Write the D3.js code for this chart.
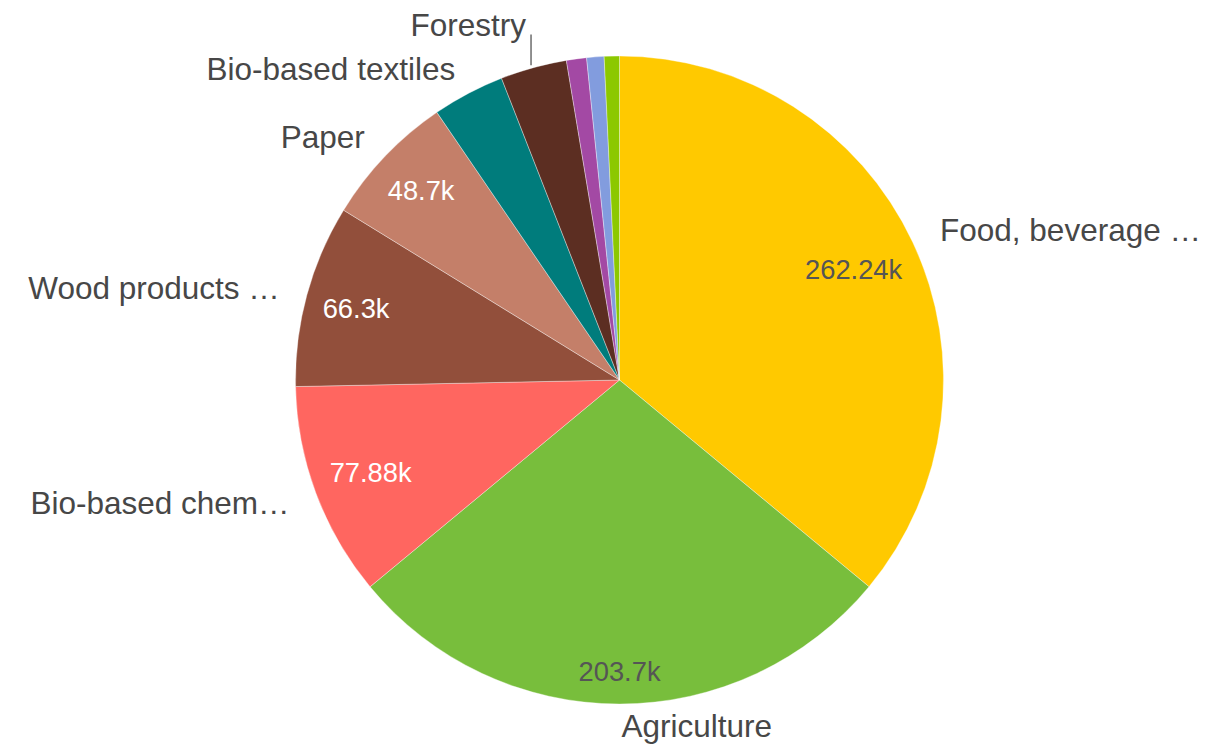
<!DOCTYPE html>
<html>
<head>
<meta charset="utf-8">
<script src="https://cdn.jsdelivr.net/npm/d3@7/dist/d3.min.js"></script>
<style>
  html, body { margin: 0; padding: 0; background: #fff; }
  svg { display: block; font-family: "Liberation Sans", Arial, sans-serif; }
</style>
</head>
<body>
<svg id="chart" width="1219" height="747"></svg>
<script>
// Slice names as shown beside the pie (long names are cut with an ellipsis)
const categories = [
  "Food, beverage …", "Agriculture", "Bio-based chem…", "Wood products …",
  "Paper", "Bio-based textiles", "Forestry", "Fishing", "Liquid biofuels", "Bio-based electricity"
];
// Slice values
const values = [262240, 203700, 77880, 66300, 48700, 26200, 24100, 7300, 6300, 5500];
// Slice colours
const colors = [
  "#FFC900", "#78BE3C", "#FF6660", "#924F3B", "#C47F69",
  "#007C7C", "#5C2E22", "#A349A4", "#829CDE", "#8CC800"
];
// Slices too thin to carry a name label
const unlabeled = ["Fishing", "Liquid biofuels", "Bio-based electricity"];

const width = 1219, height = 747;
const cx = 619.5, cy = 380, R = 324;
const labelSize = 31.5, valueSize = 27.3;

const svg = d3.select("#chart");
const g = svg.append("g").attr("transform", `translate(${cx},${cy})`);

const data = categories.map((c, i) => ({ name: c, value: values[i], color: colors[i] }));
const pie = d3.pie().sort(null).value(d => d.value);
const arcs = pie(data);
const arc = d3.arc().innerRadius(0).outerRadius(R);

// Slices
g.selectAll("path.slice")
  .data(arcs)
  .join("path")
  .attr("class", "slice")
  .attr("d", arc)
  .attr("fill", d => d.data.color)
  .attr("stroke", "#ffffff")
  .attr("stroke-opacity", 0.6)
  .attr("stroke-width", 0.6);

const fmt = v => d3.format(".2~f")(v / 1000) + "k";

// Value labels inside the wider slices, pushed out until the text box meets an inner ring
const Rin = R * 0.955;
arcs.filter(d => d.endAngle - d.startAngle > 0.3).forEach(d => {
  const mid = (d.startAngle + d.endAngle) / 2;
  const ux = Math.sin(mid), uy = -Math.cos(mid);
  const lab = d3.lab(d.data.color);
  const t = g.append("text")
    .attr("font-size", valueSize)
    .attr("text-anchor", "middle")
    .attr("fill", lab.l > 65 ? "#555555" : "#ffffff")
    .text(fmt(d.data.value));
  const w = t.node().getComputedTextLength();
  const h = valueSize * 1.15;
  const a = Math.sign(ux || 1) * w / 2, b = Math.sign(uy || 1) * h / 2;
  const p = ux * a + uy * b;
  const dist = -p + Math.sqrt(p * p - (a * a + b * b - Rin * Rin));
  t.attr("x", dist * ux).attr("y", dist * uy + valueSize * 0.35);
});

// Name labels outside the pie along each slice's bisector, kept inside the frame
const D = R + 28;
const maxBaseline = height - cy - 10;
const labels = arcs.filter(d => !unlabeled.includes(d.data.name)).map(d => {
  const mid = (d.startAngle + d.endAngle) / 2;
  const x = D * Math.sin(mid);
  const y = Math.min(-D * Math.cos(mid), maxBaseline - labelSize * 0.35);
  return { d, mid, x, y, y0: y, right: mid < Math.PI };
});

// Keep left-hand labels apart: walk upwards and lift any that crowd the one below
const gap = labelSize * 1.4;
const left = labels.filter(l => !l.right).sort((p, q) => p.mid - q.mid);
for (let i = 1; i < left.length; i++) {
  const below = left[i - 1], cur = left[i];
  if (below.y - cur.y < gap) cur.y = below.y - gap;
}

labels.forEach(l => {
  g.append("text")
    .attr("font-size", labelSize)
    .attr("fill", "#474747")
    .attr("text-anchor", l.right ? "start" : "end")
    .attr("x", l.right ? l.x + 2 : l.x)
    .attr("y", l.y + labelSize * 0.35)
    .text(l.d.data.name);

  // Leader line for labels that had to be moved
  if (Math.abs(l.y - l.y0) > 2) {
    const lx = l.right ? l.x - 5 : l.x + 5;
    const edgeY = -Math.sqrt(R * R - lx * lx);
    g.append("line")
      .attr("x1", lx).attr("x2", lx)
      .attr("y1", l.y + 10)
      .attr("y2", edgeY - 3)
      .attr("stroke", "#555555")
      .attr("stroke-width", 1.3);
  }
});
</script>
</body>
</html>
